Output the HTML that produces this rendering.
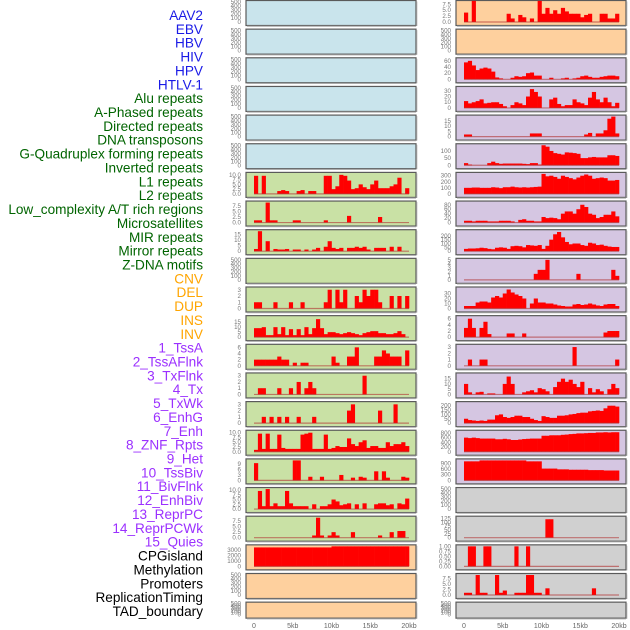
<!DOCTYPE html>
<html><head><meta charset="utf-8"><style>
html,body{margin:0;padding:0;background:#fff;}
svg{display:block;font-family:"Liberation Sans",sans-serif;}
</style></head><body>
<svg id="chart" width="630" height="630" viewBox="0 0 630 630" xmlns="http://www.w3.org/2000/svg"></svg>
<script>
const labels = ["AAV2","EBV","HBV","HIV","HPV","HTLV-1","Alu repeats","A-Phased repeats","Directed repeats","DNA transposons","G-Quadruplex forming repeats","Inverted repeats","L1 repeats","L2 repeats","Low_complexity A/T rich regions","Microsatellites","MIR repeats","Mirror repeats","Z-DNA motifs","CNV","DEL","DUP","INS","INV","1_TssA","2_TssAFlnk","3_TxFlnk","4_Tx","5_TxWk","6_EnhG","7_Enh","8_ZNF_Rpts","9_Het","10_TssBiv","11_BivFlnk","12_EnhBiv","13_ReprPC","14_ReprPCWk","15_Quies","CPGisland","Methylation","Promoters","ReplicationTiming","TAD_boundary"];
const labelColors = ["#1a1ae6","#006400","#ffa500","#9b30ff","#000000"];
const labelGroupSizes = [6,13,5,15,5];
const xTicks = [0,5,10,15,20];
const xTickLabels = ["0","5kb","10kb","15kb","20kb"];
const emptyTicks = [0,100,200,300,400,500];
const B = "#c9e4ec", P = "#fed09e", G = "#c9e1a5", U = "#d5c6e2", Y = "#d0d0d0";
// left column
const L_bg = [B,B,B,B,B,B,G,G,G,G,G,G,G,G,G,G,G,G,G,P,P,P];
const L_max = [500,500,500,500,500,500,10.5,9,18,500,3.2,20,6.5,3.2,3.2,10.5,11,10.5,9,3700,500,500];
const L_ticks = [emptyTicks,emptyTicks,emptyTicks,emptyTicks,emptyTicks,emptyTicks,[0,2.5,5,7.5,10],[0,2.5,5,7.5],[0,5,10,15],emptyTicks,[0,1,2,3],[0,5,10,15],[0,2,4,6],[0,1,2,3],[0,1,2,3],[0,2.5,5,7.5,10],[0,3,6,9],[0,2.5,5,7.5,10],[0,2.5,5,7.5],[0,1000,2000,3000],emptyTicks,emptyTicks];
const L_fmt = [0,0,0,0,0,0,1,1,0,0,0,0,0,0,0,1,0,1,1,0,0,0];
const L6 = [9.5,0,9.5,0,0,0,1.5,2,1.5,0,0,1.5,2,0,1.5,1.5,0,0,9.5,9.5,2.5,4,10,9.5,7,2.5,3,5,3.5,2.5,5,7,3,3,3,4,5,8.5,0,3];
const L7 = [1,1,0,9,1,1,0,0,0,0,1,1,0,0,0,0,0,0,1,0,0,0,0,0,3,0,0,0,0,0,0,0,2.5,0,0,0,0,0,0,0];
const L8 = [2,18,0,9,0,2,1.5,1.5,2,0,1.5,1.5,0,1.5,0,1.5,3,0,4,9,3,2,3,0,3,3,4,3,4,1.5,0,3,3,3,0,4,0,4,0,0];
const L10 = [1,1,0,0,0,1,0,0,0,1,0,0,1,0,0,0,0,0,1,3,0,3,1,3,0,0,2,1,3,2,3,3,1,0,0,2,0,2,0,2];
const L11 = [9,9,10,2,2,10,3,10,2,8,2,8,2,10,3,9,18,9,3,5,5,4,3,4,5,4,3,2,4,5,6,6,4,4,3,3,4,6,3,0];
const L12 = [2,2,2,2,2,2,3,2,2,0,1,0,1,1,0,0,0,0,0,0,3,1,0,0,3,3,6,0,0,0,0,3,3,5,4,3,3,3,0,5];
const L13 = [0,1,1,0,0,0,1,0,0,1,0,2,0,1,2,1,0,0,0,0,0,0,0,0,0,0,0,0,3,0,0,0,0,0,0,0,0,0,0,0];
const L14 = [0,0,1,0,1,0,1,0,1,0,0,1,0,0,0,1,0,0,0,0,0,0,0,0,2,3,0,0,0,0,0,0,2,0,0,0,3,0,0,0];
const L15 = [1,9.5,1.5,9.5,1.5,1.5,9,2,1.5,1.5,1.5,1.5,9,9.5,10,1.5,1.5,1.5,9,1.5,2,3,2.5,2.5,7,4,3,5,6,2,3,3,2,2,5,3,4,4,5,3];
const L16 = [9.5,0,0,0,0,0,0,0,0,0,11,11,0,0,2,0,0,2,0,0,0,0,3,0,0,1.5,0,2,1.5,0,0,5,0,5,1.5,0,0,0,2,1.5];
const L17 = [0,9.5,1.5,10.5,1.5,3,1.5,1.5,9.5,3,1.5,1.5,1.5,1.5,0,2.5,0,1.5,1.5,2.5,5,4,2,2.5,3,0,2.5,0,3,0,0,2.5,3,3,2,2.5,0,3,2.5,5.5];
const L18 = [0,0,0,0,0,0,0,0,0,0,0,0,0,0,0,1,9,1,0,1,2.5,1,0,0,0,2.5,0,0,0,0,0,0,1,0,0,2.5,0,3,3,0];
const L19 = [3500,3500,3500,3500,3500,3500,3500,3500,3500,3500,3500,3500,3500,3500,3500,3500,3500,3500,3500,3500,3700,3700,3700,3700,3700,3700,3700,3700,3700,3700,3700,3700,3700,3700,3700,3700,3700,3700,3700,3700];
const L_data = [null,null,null,null,null,null,L6,L7,L8,null,L10,L11,L12,L13,L14,L15,L16,L17,L18,L19,null,null];
// right column
const R_bg = [P,P,U,U,U,U,U,U,U,U,U,U,U,U,U,U,U,Y,Y,Y,Y,Y];
const R_max = [8.5,500,65,35,19,140,330,90,260,5,40,6.5,3.2,19,230,850,1050,500,130,1,9,500];
const R_ticks = [[0,2.5,5,7.5],emptyTicks,[0,20,40,60],[0,10,20,30],[0,5,10,15],[0,50,100],[0,100,200,300],[0,20,40,60,80],[0,50,100,150,200],[0,1,2,3,4,5],[0,10,20,30],[0,2,4,6],[0,1,2,3],[0,5,10,15],[0,50,100,150,200],[0,200,400,600,800],[0,300,600,900],emptyTicks,[0,25,50,75,100,125],[0,0.25,0.5,0.75,1],[0,2.5,5,7.5],emptyTicks];
const R_fmt = [1,0,0,0,0,0,0,0,0,0,0,0,0,0,0,0,0,0,0,2,1,0];
const R0 = [4,0,9,0,0,0,0,0,0,0,0,3.5,1.5,0,3,2,0,1.5,0,9,3.5,6,3.5,5,3.5,6,4.5,3.5,3.5,3.5,2,3,3.5,0,0,3.5,3.5,1.5,1.5,3.5];
const R2 = [55,60,45,30,35,38,35,25,6,3,0,0,5,10,8,10,20,22,12,12,0,0,5,0,0,3,5,0,3,5,10,12,8,5,5,8,10,12,12,10];
const R3 = [12,8,10,12,15,8,9,10,10,7,3,0,5,10,8,5,20,33,28,20,0,0,15,18,7,3,5,5,15,10,8,5,18,28,15,10,18,10,3,9];
const R4 = [2,2,0,0,0,0,0,0,0,0,0,0,0,0,0,0,0,3,3,3,0,0,0,0,0,0,0,0,0,0,0,2,3.5,0,3,3,6,17,19,3];
const R5 = [15,5,0,0,0,0,15,25,15,10,12,12,12,12,12,10,8,15,15,5,140,130,100,85,80,75,90,88,85,80,50,50,55,58,55,55,55,70,70,65];
const R6 = [100,100,105,105,100,100,100,110,105,95,110,110,120,110,105,110,105,110,115,120,330,290,300,280,250,300,280,260,240,270,300,320,300,250,260,270,260,220,220,230];
const R7 = [8,8,5,8,8,8,5,5,5,8,8,8,5,0,12,15,8,8,5,5,25,20,22,20,15,40,50,50,40,60,80,70,40,35,20,25,35,35,50,28];
const R8 = [30,35,35,38,45,40,30,25,45,50,45,30,65,70,65,50,80,75,70,80,30,70,150,220,250,180,120,90,100,100,80,70,110,100,80,85,70,60,55,55];
const R9 = [0,0,0,0,0,0,0,0,0,0,0,0,0,0,0,0,0,0,1.5,2.5,2.5,5,0,0,0,0,0,0,0,1.5,0,0,0,0,0,0,0,0,2.5,1];
const R10 = [5,5,5,12,14,14,12,22,25,22,30,38,32,28,25,20,0,10,20,12,12,10,10,8,6,5,4,4,8,9,7,8,10,8,6,5,8,9,9,5];
const R11 = [3,6,3,0,3,5,1,0,0,0,0,1.2,1.2,0,0,1.2,0,0,0,0,0,0,0,0,0,0,0,0,0,0,0,0,0,0,0,0,1.5,2,2,2];
const R12 = [0,1,0,0,1,1,0,0,0,0,0,0,0,0,0,0,0,0,0,0,0,0,0,0,0,0,0,0,3,0,0,0,0,0,0,0,0,0,0,1];
const R13 = [10,2,0,2,2.5,0,1,1,0,0,10,17,10,0,0,2,3,4,2,6,5,3,0,7,12,15,12,14,10,7,12,0,6,2,5,3,0,5,10,6];
const R14 = [50,35,30,25,30,25,40,40,90,100,70,60,70,85,85,70,70,50,35,25,80,70,60,60,85,85,90,100,105,115,120,120,135,140,145,140,170,200,200,190];
const R15 = [600,580,600,580,560,560,560,560,530,530,550,530,500,500,520,540,550,560,560,560,680,680,700,700,700,720,730,750,760,780,780,790,800,800,820,820,830,820,830,830];
const R16 = [1000,1000,1000,1000,1050,1050,1050,1050,1050,1050,1050,1050,1050,1050,1050,1050,1000,1000,1000,1000,620,620,620,620,580,580,580,560,560,560,560,560,540,540,540,540,520,520,520,520];
const R18 = [0,0,0,0,0,0,0,0,0,0,0,0,0,0,0,0,0,0,0,0,0,120,120,0,0,0,0,0,0,0,0,0,0,0,0,0,0,0,0,0];
const R19 = [0,1,1,0,0,1,1,0,0,0,0,0,0,1,0,0,1,0,0,0,0,0,0,0,0,0,0,0,0,0,0,0,0,0,0,0,0,0,0,0];
const R20 = [1,1,0,9,1,1,0,0,9,1,2,0,0,1,1,1,9,9,1,1,0,3,0,0,0,0,0,0,0,0,0,0,0,3,0,0,0,0,0,0];
const R_data = [R0,null,R2,R3,R4,R5,R6,R7,R8,R9,R10,R11,R12,R13,R14,R15,R16,null,R18,R19,R20,null];

const NS = "http://www.w3.org/2000/svg";
const svg = document.getElementById("chart");
function mk(tag, attrs, parent){ const e=document.createElementNS(NS,tag); for(const k in attrs) e.setAttribute(k,attrs[k]); (parent||svg).appendChild(e); return e; }

// labels
let li = 0;
labelGroupSizes.forEach((n,g)=>{ for(let k=0;k<n;k++){ const t=mk("text",{x:203,y:(20+li*13.86).toFixed(1),"text-anchor":"end","font-size":"13.6",fill:labelColors[g]}); t.textContent=labels[li];


li++; } });

const ROWP = 28.65, NBIN = 40, KB = 20;
function drawCol(x0, bgs, maxs, ticks, fmts, datas, colName){
  const xs = kb => x0 + 8 + kb*(155/KB);
  for(let r=0;r<bgs.length;r++){
    const top = r*ROWP;
    const h = r===bgs.length-1 ? 16 : 25;
    const base = top + h - 3;
    const plotH = h - 5;
    const ys = v => base - v/maxs[r]*plotH;
    const g = mk("g",{});
    
    
    mk("rect",{x:x0,y:top+0.5,width:170,height:h,fill:bgs[r],stroke:"#5a5a5a","stroke-width":"1.2"},g);
    mk("line",{x1:x0+1,y1:top+h+1.2,x2:x0+170,y2:top+h+1.2,stroke:"#aaa","stroke-width":"1"},g);
    mk("line",{x1:x0+170.8,y1:top+1.5,x2:x0+170.8,y2:top+h+1,stroke:"#aaa","stroke-width":"1"},g);
    ticks[r].forEach(tv=>{ const t=mk("text",{x:x0-5,y:(ys(tv)+2).toFixed(1),"text-anchor":"end","font-size":"6.2",fill:"#777"},g); t.textContent = tv.toFixed(fmts[r]);
      
       });
    const d = datas[r];
    if(d){
      const w = KB/NBIN;
      d.forEach((v,i)=>{ if(v<=0) return; const y=ys(v); const b=mk("rect",{x:xs(i*w).toFixed(2),y:y.toFixed(2),width:(xs((i+1)*w)-xs(i*w)+0.3).toFixed(2),height:(base-y).toFixed(2),fill:"#ff0000"},g);
        
         });
      mk("line",{x1:xs(0),y1:base,x2:xs(KB),y2:base,stroke:"#b03030","stroke-width":"1.2","stroke-opacity":"0.6"},g);
    }
  }
  xTicks.forEach((tv,i)=>{ const t=mk("text",{x:xs(tv),y:628,"text-anchor":"middle","font-size":"7",fill:"#666"}); t.textContent=xTickLabels[i];
    
     });
}
drawCol(246, L_bg, L_max, L_ticks, L_fmt, L_data, "left");
drawCol(456, R_bg, R_max, R_ticks, R_fmt, R_data, "right");
</script>
</body></html>
